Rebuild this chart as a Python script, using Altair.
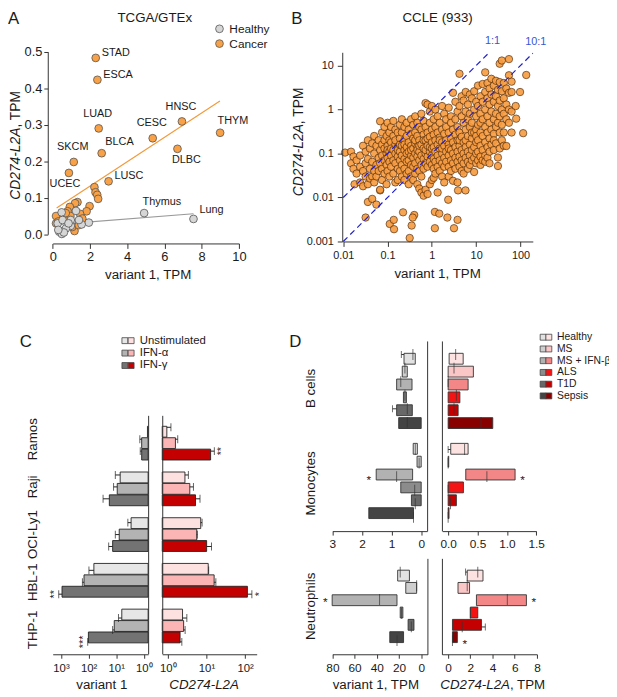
import altair as alt
import pandas as pd

FONT = "Liberation Sans"
MARGIN = 8
W, H = 617 - MARGIN, 697 - MARGIN
INK = "#1a1a1a"
LINE = "#333333"


def v(p):
    """page pixel -> chart pixel"""
    return p - MARGIN


# ---------------- data: A (TCGA/GTEx) ----------------
a_cancer_labels = ["STAD", "ESCA", "LUAD", "HNSC", "THYM", "CESC", "DLBC", "BLCA", "SKCM", "UCEC", "LUSC"]
a_cancer_lab_v1 = [2.31, 2.40, 2.47, 6.94, 8.99, 5.37, 6.70, 2.63, 1.13, 0.87, 3.00]
a_cancer_lab_l2a = [0.483, 0.423, 0.290, 0.309, 0.278, 0.263, 0.234, 0.222, 0.198, 0.168, 0.145]
a_cancer_other_v1 = [2.24, 2.30, 2.39, 2.44, 1.33, 1.20, 1.98, 0.92, 1.82, 1.47, 0.41, 0.18,
                     0.80, 0.18, 1.17, 0.53, 1.59, 0.62, 1.05, 1.40, 0.30, 0.95, 0.70]
a_cancer_other_l2a = [0.129, 0.115, 0.108, 0.097, 0.088, 0.085, 0.077, 0.075, 0.063, 0.056, 0.052, 0.050,
                      0.063, 0.030, 0.009, 0.007, 0.043, 0.045, 0.020, 0.025, 0.035, 0.050, 0.058]
a_healthy_labels = ["Thymus", "Lung"]
a_healthy_lab_v1 = [4.91, 7.56]
a_healthy_lab_l2a = [0.058, 0.042]
a_healthy_other_v1 = [1.94, 1.55, 1.25, 0.48, 0.97, 0.97, 0.35, 0.27, 0.49, 0.53, 0.71, 1.41, 0.60, 0.30, 0.85]
a_healthy_other_l2a = [0.032, 0.027, 0.064, 0.060, 0.023, 0.039, 0.007, 0.030, 0.001, 0.039, 0.016, 0.039,
                       0.005, 0.012, 0.030]
a_fit_group = ["Cancer", "Cancer", "Healthy", "Healthy"]
a_fit_v1 = [0.21, 8.98, 0.30, 7.56]
a_fit_l2a = [0.072, 0.365, 0.027, 0.056]

# ---------------- data: B (CCLE, 933 cell lines; visible cloud) ----------------
ccle_far_left = [
    (0.011, 0.105), (0.015, 0.11), (0.015, 0.06), (0.017, 0.085), (0.017, 0.045), (0.018, 0.02),
    (0.02, 0.07), (0.02, 0.035), (0.024, 0.05), (0.024, 0.022), (0.024, 0.09), (0.028, 0.018),
    (0.028, 0.04), (0.028, 0.15), (0.032, 0.06), (0.032, 0.11), (0.032, 0.03), (0.032, 0.0035),
    (0.036, 0.02), (0.036, 0.075), (0.036, 0.2), (0.036, 0.0079), (0.04, 0.045), (0.04, 0.13),
    (0.04, 0.027), (0.045, 0.0093), (0.045, 0.065), (0.045, 0.17), (0.045, 0.03), (0.05, 0.1),
    (0.05, 0.04), (0.05, 0.022), (0.05, 0.25), (0.056, 0.0069), (0.056, 0.055), (0.056, 0.15),
    (0.056, 0.03), (0.063, 0.08), (0.063, 0.2), (0.063, 0.04), (0.068, 0.0145), (0.068, 0.54),
    (0.068, 0.12), (0.068, 0.06), (0.068, 0.015), (0.075, 0.3), (0.075, 0.09), (0.075, 0.045),
    (0.075, 0.025), (0.075, 0.16), (0.085, 0.4), (0.085, 0.07), (0.085, 0.13), (0.085, 0.035),
    (0.085, 0.2), (0.095, 0.25), (0.095, 0.1), (0.095, 0.055), (0.095, 0.02),
]
ccle_mid = [
    (0.1, 0.5), (0.1, 0.15), (0.1, 0.08), (0.1, 0.04), (0.1, 0.12),
    (0.11, 0.3), (0.11, 0.11), (0.11, 0.065), (0.11, 0.03), (0.11, 0.2), (0.112, 0.0025),
    (0.12, 0.4), (0.12, 0.18), (0.12, 0.09), (0.12, 0.05), (0.12, 0.13),
    (0.135, 0.55), (0.135, 0.25), (0.135, 0.12), (0.135, 0.07), (0.135, 0.035), (0.138, 0.0031), (0.14, 0.0019),
    (0.15, 0.35), (0.15, 0.16), (0.15, 0.1), (0.15, 0.06), (0.15, 0.2), (0.15, 0.022),
    (0.17, 0.3), (0.17, 0.14), (0.17, 0.085), (0.17, 0.045), (0.17, 0.025), (0.17, 0.12),
    (0.19, 0.45), (0.19, 0.22), (0.19, 0.11), (0.19, 0.07), (0.19, 0.04), (0.19, 0.16),
    (0.21, 0.6), (0.21, 0.3), (0.21, 0.15), (0.21, 0.09), (0.21, 0.055), (0.21, 0.03), (0.224, 0.0046),
    (0.24, 0.4), (0.24, 0.2), (0.24, 0.12), (0.24, 0.075), (0.24, 0.045), (0.24, 0.025), (0.24, 0.16),
    (0.27, 0.5), (0.27, 0.25), (0.27, 0.1), (0.27, 0.065), (0.27, 0.035), (0.27, 0.14),
    (0.3, 0.35), (0.3, 0.18), (0.3, 0.11), (0.3, 0.07), (0.3, 0.04), (0.3, 0.02), (0.316, 0.0012), (0.35, 0.0023),
    (0.34, 0.6), (0.34, 0.28), (0.34, 0.15), (0.34, 0.09), (0.34, 0.055), (0.34, 0.03), (0.34, 0.12),
    (0.38, 0.45), (0.38, 0.22), (0.38, 0.13), (0.38, 0.08), (0.38, 0.05), (0.38, 0.025), (0.4, 0.004), (0.37, 0.0035),
    (0.42, 0.7), (0.42, 0.3), (0.42, 0.17), (0.42, 0.1), (0.42, 0.06), (0.42, 0.035), (0.42, 0.2),
    (0.47, 0.5), (0.47, 0.25), (0.47, 0.14), (0.47, 0.085), (0.47, 0.045), (0.47, 0.02), (0.47, 0.12),
    (0.52, 0.4), (0.52, 0.2), (0.52, 0.11), (0.52, 0.07), (0.52, 0.04), (0.52, 0.016), (0.52, 0.15),
    (0.58, 0.8), (0.58, 0.35), (0.58, 0.16), (0.58, 0.09), (0.58, 0.055), (0.58, 0.03), (0.58, 0.013),
    (0.65, 0.55), (0.65, 0.27), (0.65, 0.13), (0.65, 0.075), (0.65, 0.045), (0.65, 0.011), (0.65, 0.2),
    (0.72, 1.4), (0.72, 0.4), (0.72, 0.2), (0.72, 0.1), (0.72, 0.06), (0.72, 0.015), (0.72, 0.12),
    (0.8, 1.3), (0.8, 0.3), (0.8, 0.15), (0.8, 0.085), (0.8, 0.05), (0.8, 0.012), (0.8, 0.22),
    (0.9, 0.9), (0.9, 0.5), (0.9, 0.24), (0.9, 0.11), (0.9, 0.065), (0.9, 0.02), (0.9, 0.14),
]
ccle_high = [
    (1.0, 1.2), (1.0, 0.35), (1.0, 0.18), (1.0, 0.09), (1.0, 0.055), (1.0, 0.025), (1.0, 0.13),
    (1.1, 0.6), (1.1, 0.27), (1.1, 0.14), (1.1, 0.075), (1.1, 0.045), (1.1, 0.028), (1.17, 0.002),
    (1.2, 1.0), (1.2, 0.4), (1.2, 0.2), (1.2, 0.11), (1.2, 0.065), (1.2, 0.035), (1.17, 0.0047),
    (1.35, 0.7), (1.35, 0.3), (1.35, 0.16), (1.35, 0.09), (1.35, 0.05), (1.35, 0.013), (1.47, 0.0043),
    (1.5, 0.5), (1.5, 0.23), (1.5, 0.13), (1.5, 0.07), (1.5, 0.04), (1.5, 0.2),
    (1.7, 1.2), (1.7, 0.35), (1.7, 0.18), (1.7, 0.1), (1.7, 0.06), (1.7, 0.03), (1.7, 0.13),
    (1.9, 0.8), (1.9, 0.28), (1.9, 0.15), (1.9, 0.08), (1.9, 0.05), (1.9, 0.022),
    (2.1, 0.6), (2.1, 0.4), (2.1, 0.2), (2.1, 0.11), (2.1, 0.065), (2.34, 0.0089), (2.24, 0.0035),
    (2.4, 1.1), (2.4, 0.3), (2.4, 0.16), (2.4, 0.09), (2.4, 0.05), (2.4, 0.03), (2.4, 0.13),
    (2.7, 0.7), (2.7, 0.5), (2.7, 0.22), (2.7, 0.12), (2.7, 0.07), (2.7, 0.04),
    (3.0, 2.4), (3.0, 0.35), (3.0, 0.18), (3.0, 0.1), (3.0, 0.06), (3.0, 0.024), (3.16, 0.002),
    (3.4, 1.5), (3.4, 0.6), (3.4, 0.27), (3.4, 0.14), (3.4, 0.08), (3.4, 0.045),
    (3.8, 0.9), (3.8, 0.4), (3.8, 0.2), (3.8, 0.11), (3.8, 0.065), (3.8, 0.022), (3.8, 0.0031),
    (4.2, 6.5), (4.2, 1.2), (4.2, 0.3), (4.2, 0.15), (4.2, 0.085), (4.2, 0.05), (4.2, 0.2),
    (4.7, 2.0), (4.7, 0.7), (4.7, 0.24), (4.7, 0.12), (4.7, 0.07), (4.7, 0.04), (3.9, 0.0145),
    (5.2, 1.6), (5.2, 0.5), (5.2, 0.18), (5.2, 0.1), (5.2, 0.06), (5.2, 0.035),
    (5.8, 2.5), (5.8, 0.9), (5.8, 0.35), (5.8, 0.14), (5.8, 0.08), (5.75, 0.0145), (5.8, 0.2),
    (6.5, 1.3), (6.5, 0.6), (6.5, 0.25), (6.5, 0.11), (6.5, 0.065), (6.5, 0.045),
    (7.2, 2.2), (7.2, 0.8), (7.2, 0.4), (7.2, 0.16), (7.2, 0.09), (7.2, 0.055),
    (8.0, 1.8), (8.0, 0.5), (8.0, 0.22), (8.0, 0.12), (8.0, 0.07), (8.0, 0.3),
    (9.0, 2.6), (9.0, 1.0), (9.0, 0.3), (9.0, 0.14), (9.0, 0.08), (9.0, 0.038),
]
ccle_top = [
    (10, 1.5), (10, 0.7), (10, 0.35), (10, 0.18), (10, 0.1), (10, 0.06), (10, 0.25),
    (11, 3.5), (11, 1.2), (11, 0.45), (11, 0.2), (11, 0.11), (11, 0.07),
    (12.5, 2.0), (12.5, 0.8), (12.5, 0.3), (12.5, 0.15), (12.5, 0.085), (12.5, 0.055), (12.5, 0.5),
    (14, 3.8), (14, 1.5), (14, 0.6), (14, 0.25), (14, 0.12), (14, 0.07),
    (16, 7.0), (16, 2.5), (16, 1.0), (16, 0.4), (16, 0.18), (16, 0.09), (16, 0.065),
    (18, 4.0), (18, 1.8), (18, 0.7), (18, 0.3), (18, 0.14), (18, 0.08),
    (20, 3.0), (20, 1.3), (20, 0.5), (20, 0.22), (20, 0.11), (20, 0.06),
    (22, 5.0), (22, 2.2), (22, 0.9), (22, 0.35), (22, 0.16),
    (25, 3.5), (25, 1.5), (25, 0.6), (25, 0.28), (25, 0.12), (25, 0.2),
    (28, 4.5), (28, 2.0), (28, 0.8), (28, 0.4), (28, 0.17),
    (31, 2.8), (31, 1.2), (31, 0.5), (31, 0.081), (31, 0.052),
    (34, 11.0), (34, 4.2), (34, 1.6), (34, 0.7), (34, 0.3), (34, 0.13),
    (38, 13.0), (38, 2.6), (38, 1.0), (38, 0.45), (38, 0.2),
    (42, 4.0), (42, 1.8), (42, 0.8), (42, 0.3), (42, 0.15),
    (48, 3.0), (48, 1.3), (48, 0.6), (48, 0.148),
    (55, 14.0), (55, 6.0), (55, 2.4), (55, 1.0), (55, 0.5),
    (63, 4.3), (63, 2.5), (63, 0.9), (63, 0.3),
    (78, 1.2), (80, 0.62), (98, 2.5), (115, 0.29), (135, 6.1),
]
b_ratio_labels = ["1:1", "1:1", "10:1", "10:1"]
b_ratio_v1 = [0.01, 20, 0.01, 190]
b_ratio_l2a = [0.01, 20, 0.001, 19]

# ---------------- data: C (cell lines, IFN stimulation) ----------------
c_lines = ["Ramos", "Raji", "OCI-Ly1", "HBL-1", "THP-1"]
c_stims = ["Unstimulated", "IFN-α", "IFN-γ"]
c_v1_mean = [0.74, 1.2, 1.2, 7.2, 9.2, 17.8, 2.9, 7.8, 13.5, 64.5, 147, 920, 6.3, 11.8, 102]
c_v1_err = [0.74, 1.4, 1.35, 10.8, 12.5, 30, 3.8, 10.8, 18.8, 97.5, 168, 1210, 8.3, 13.5, 108]
c_l2a_mean = [0.94, 1.57, 12.8, 2.77, 3.7, 5.2, 7.1, 5.6, 10.1, 11.1, 15.8, 115, 2.4, 2.56, 2.07]
c_l2a_err = [1.2, 1.8, 16, 3.4, 4.6, 6.8, 7.7, 5.8, 13.5, 11.4, 17.5, 150, 3.1, 2.8, 2.3]
c_v1_stars = ["", "", "", "", "", "", "", "", "", "", "", "**", "", "", "***"]
c_l2a_stars = ["", "", "**", "", "", "", "", "", "", "", "", "*", "", "", ""]
c_gray = ["#e6e6e6", "#b3b3b3", "#737373"]
c_red = ["#fde1e1", "#fbb5b5", "#c40000"]

# ---------------- data: D (primary cells, disease) ----------------
d_conditions = ["Healthy", "MS", "MS + IFN-β", "ALS", "T1D", "Sepsis"]
d_top_groups = ["B cells", "Monocytes"]
d_bot_groups = ["Neutrophils"]
d_top_v1_lo = [0.20, 0.47, 0.31, 0.50, 0.30, 0.00, 0.13, 0.00, 0.29, 0.00, 0.00, 0.26]
d_top_v1_med = [0.28, 0.55, 0.69, 0.55, 0.47, 0.47, 0.20, 0.07, 0.83, 0.22, 0.20, 0.26]
d_top_v1_hi = [0.58, 0.64, 0.83, 0.60, 0.83, 0.76, 0.27, 0.14, 1.52, 0.69, 0.33, 1.77]
d_top_v1_whisk = [0.67, None, None, None, 0.97, None, None, None, None, None, None, None]
d_top_l2a_lo = [0.017, 0.0, 0.0, 0.0, 0.0, 0.0, 0.044, 0.0, 0.30, 0.0, 0.0, 0.0]
d_top_l2a_med = [0.128, 0.10, 0.0, 0.14, 0.10, 0.56, 0.28, 0.0, 0.66, 0.0, 0.04, 0.0]
d_top_l2a_hi = [0.256, 0.43, 0.34, 0.20, 0.17, 0.76, 0.34, 0.01, 1.14, 0.26, 0.14, 0.015]
d_top_l2a_whisk = [None, None, None, None, None, None, 0.0, None, None, None, None, None]
d_top_stars = ["", "", "", "", "", "", "", "", "*", "", "", ""]
d_bot_v1_lo = [10.6, 4.1, 21.8, 16.5, 6.5, 15.9]
d_bot_v1_med = [18.9, 4.1, 37.5, 17.7, 8.9, 21.8]
d_bot_v1_hi = [21.2, 13.9, 80.2, 18.9, 11.8, 28.3]
d_bot_v1_whisk = [None, None, None, None, None, None]
d_bot_l2a_lo = [1.72, 0.89, 2.55, 2.00, 0.39, 0.39]
d_bot_l2a_med = [2.67, 1.72, 5.33, 2.00, 1.27, 0.39]
d_bot_l2a_hi = [3.14, 1.93, 7.05, 2.67, 3.00, 0.83]
d_bot_l2a_whisk = [1.57, None, None, None, 3.35, None]
d_bot_v1_stars = ["", "", "*", "", "", ""]
d_bot_l2a_stars = ["", "", "*", "", "", "*"]
d_gray = ["#e2e2e2", "#cfcfcf", "#b2b2b2", "#8c8c8c", "#686868", "#444444"]
d_red = ["#fde2e2", "#fbc6c6", "#f38787", "#f51414", "#c40000", "#880000"]


# ---------------- helpers ----------------
def axis(orient, offset, **kw):
    opts = dict(orient=orient, offset=offset, grid=False, title=None, zindex=1,
                domainColor=LINE, tickColor=LINE, labelColor=INK, labelFont=FONT,
                labelFlush=False, labelOverlap=False, domainWidth=1, tickWidth=1)
    opts.update(kw)
    return alt.Axis(**opts)


def bottom(page_y, **kw):
    return axis("bottom", v(page_y) - H, **kw)


def left(page_x, **kw):
    return axis("left", -v(page_x), **kw)


def right(page_x, **kw):
    return axis("right", v(page_x) - W, **kw)


def note(text, x, y, size=13.5, angle=0, align="center", baseline="middle", style="normal", color=INK):
    return alt.Chart(alt.Data(values=[{}])).mark_text(
        text=text, fontSize=size, angle=angle, align=align, baseline=baseline,
        fontStyle=style, color=color, font=FONT).encode(x=alt.value(x), y=alt.value(y))


def square_legend(x, y, show_labels, size=11.5, row_pad=0.8):
    opts = dict(orient="none", legendX=x, legendY=y, title=None, direction="vertical",
                symbolType="square", symbolSize=36, symbolStrokeColor="#444",
                symbolStrokeWidth=0.8, labelFontSize=size, labelFont=FONT, labelColor=INK,
                rowPadding=row_pad, labelOffset=3, padding=0)
    if not show_labels:
        opts["labelExpr"] = "' '"
    return alt.Legend(**opts)


# ---------------- panel A ----------------
a_points = pd.DataFrame({
    "tissue": a_cancer_labels + [""] * len(a_cancer_other_v1) + a_healthy_labels + [""] * len(a_healthy_other_v1),
    "group": ["Cancer"] * (len(a_cancer_labels) + len(a_cancer_other_v1))
             + ["Healthy"] * (len(a_healthy_labels) + len(a_healthy_other_v1)),
    "v1": a_cancer_lab_v1 + a_cancer_other_v1 + a_healthy_lab_v1 + a_healthy_other_v1,
    "l2a": a_cancer_lab_l2a + a_cancer_other_l2a + a_healthy_lab_l2a + a_healthy_other_l2a,
})
a_fit = pd.DataFrame({"group": a_fit_group, "v1": a_fit_v1, "l2a": a_fit_l2a})

a_xs = alt.Scale(domain=[0, 10], range=[v(53.3), v(242)], nice=False, zero=False)
a_ys = alt.Scale(domain=[0, 0.5], range=[v(232.7), v(47.7)], nice=False, zero=False)
a_xax = bottom(242, values=[0, 2, 4, 6, 8, 10], format="d", tickSize=5, labelPadding=2, labelFontSize=13)
a_yax = left(48.3, values=[0.0, 0.1, 0.2, 0.3, 0.4, 0.5], format=".1f", tickSize=4, labelPadding=2,
             labelFontSize=13)


def a_xy(with_axes=False):
    return dict(x=alt.X("v1:Q", scale=a_xs, axis=a_xax if with_axes else None),
                y=alt.Y("l2a:Q", scale=a_ys, axis=a_yax if with_axes else None))


units = [
    alt.Chart(a_fit[a_fit.group == "Healthy"]).mark_line(color="#999999", strokeWidth=1.1).encode(**a_xy()),
    alt.Chart(a_fit[a_fit.group == "Cancer"]).mark_line(color="#f39a3a", strokeWidth=1.2).encode(**a_xy()),
    alt.Chart(a_points).mark_circle(size=62, stroke="#555555", strokeWidth=0.8, opacity=1).encode(
        **a_xy(True),
        color=alt.Color("group:N", scale=alt.Scale(domain=["Healthy", "Cancer"], range=["#d6d6d6", "#f8a146"]),
                        legend=alt.Legend(orient="none", legendX=v(216.3), legendY=v(18.5), title=None,
                                          direction="vertical", symbolType="circle", symbolSize=62,
                                          symbolStrokeColor="#555", symbolStrokeWidth=0.8, labelFontSize=12,
                                          labelFont=FONT, labelColor=INK, rowPadding=3, labelOffset=4,
                                          padding=0)),
    ),
]
a_label_layout = [
    (["STAD", "ESCA", "LUSC"], 6, -5, "left"),
    (["Lung"], 6, -9, "left"),
    (["LUAD", "HNSC", "CESC", "SKCM"], -1, -15, "center"),
    (["THYM"], 13, -12, "center"),
    (["BLCA", "Thymus"], 18, -11, "center"),
    (["DLBC"], 9, 11, "center"),
    (["UCEC"], -4, 11, "center"),
]
for names, dx, dy, align in a_label_layout:
    units.append(
        alt.Chart(a_points[a_points.tissue.isin(names)]).mark_text(
            dx=dx, dy=dy, align=align, baseline="middle", fontSize=11, font=FONT, color=INK
        ).encode(**a_xy(), text="tissue:N"))

# ---------------- panel B ----------------
ccle = pd.DataFrame(ccle_far_left + ccle_mid + ccle_high + ccle_top, columns=["v1", "l2a"])
ratios = pd.DataFrame({"ratio": b_ratio_labels, "v1": b_ratio_v1, "l2a": b_ratio_l2a})
ratio_ends = ratios.loc[ratios.groupby("ratio")["v1"].idxmax()]

b_xs = alt.Scale(type="log", domain=[0.01, 190], range=[v(347.7), v(539.8)], nice=False)
b_ys = alt.Scale(type="log", domain=[0.001, 20], range=[v(240), v(48.3)], nice=False)
b_xax = bottom(240, values=[0.01, 0.1, 1, 10, 100], format="~g", tickSize=5, labelPadding=3, labelFontSize=11)
b_yax = left(346.7, values=[0.001, 0.01, 0.1, 1, 10], format="~g", tickSize=5, labelPadding=4, labelFontSize=11)


def b_xy(with_axes=False):
    return dict(x=alt.X("v1:Q", scale=b_xs, axis=b_xax if with_axes else None),
                y=alt.Y("l2a:Q", scale=b_ys, axis=b_yax if with_axes else None))


units += [
    alt.Chart(ccle).mark_circle(size=56, color="#f89c40", stroke="#5a300c", strokeWidth=0.8,
                                opacity=0.9).encode(**b_xy(True)),
    alt.Chart(ratios).mark_line(strokeDash=[6, 4], color="#1f1fc8", strokeWidth=1.2).encode(
        **b_xy(), detail="ratio:N"),
    alt.Chart(ratio_ends).mark_text(dx=3, dy=-11, fontSize=11, font=FONT, color="#3556d8").encode(
        **b_xy(), text="ratio:N"),
]

# ---------------- panel C ----------------
c_rows = []
for g, line in enumerate(c_lines):
    for s, stim in enumerate(c_stims):
        i = g * len(c_stims) + s
        c_rows.append(dict(slot=g * (len(c_stims) + 1) + s, line=line, stim=stim,
                           v1=c_v1_mean[i], v1_err=c_v1_err[i], v1_star=c_v1_stars[i],
                           l2a=c_l2a_mean[i], l2a_err=c_l2a_err[i], l2a_star=c_l2a_stars[i]))
c_df = pd.DataFrame(c_rows)
c_groups = pd.DataFrame({"line": c_lines,
                         "center": [g * (len(c_stims) + 1) + 1 for g in range(len(c_lines))]})

c_ys = alt.Scale(domain=[-1, 19], range=[v(416.2), v(657.8)], nice=False, zero=False)
sup_expr = ("datum.value >= 999 ? '10³' : datum.value >= 99 ? '10²' : "
            "datum.value >= 9 ? '10¹' : '10⁰'")


def bar_panel(val, err, star, base, xs, xax, yax, colors, legend, star_dy, group_labels=False):
    cs = alt.Scale(domain=c_stims, range=colors)
    y_plain = alt.Y("slot:Q", scale=c_ys, axis=None)
    layers = [
        alt.Chart(c_df).mark_bar(orient="horizontal", size=11, stroke="#222", strokeWidth=0.9).encode(
            x=alt.X(f"{val}:Q", scale=xs, axis=xax), x2=alt.datum(base),
            y=alt.Y("slot:Q", scale=c_ys, axis=yax),
            color=alt.Color("stim:N", scale=cs, legend=legend)),
    ]
    ed = c_df[c_df[err] > c_df[val]]
    layers.append(alt.Chart(ed).mark_rule(color="#222", strokeWidth=1).encode(
        x=alt.X(f"{val}:Q", scale=xs, axis=None), x2=f"{err}:Q", y=y_plain))
    layers.append(alt.Chart(ed).mark_tick(orient="vertical", size=8, thickness=1, color="#222").encode(
        x=alt.X(f"{err}:Q", scale=xs, axis=None), y=y_plain))
    sd = c_df[c_df[star] != ""]
    layers.append(alt.Chart(sd).mark_text(angle=270, dy=star_dy, fontSize=11, font=FONT, color=INK,
                                          align="center", baseline="middle").encode(
        x=alt.X(f"{err}:Q", scale=xs, axis=None), y=y_plain, text=f"{star}:N"))
    if group_labels:
        layers.append(alt.Chart(c_groups).mark_text(angle=270, fontSize=13.5, font=FONT, color=INK,
                                                    align="center", baseline="middle").encode(
            x=alt.value(v(33)), y=alt.Y("center:Q", scale=c_ys, axis=None), text="line:N"))
    return layers


c_lxs = alt.Scale(type="log", domain=[0.7, 2000], range=[v(150), v(53.3)], nice=False)
c_rxs = alt.Scale(type="log", domain=[0.715, 200], range=[v(164.3), v(260)], nice=False)
units += bar_panel("v1", "v1_err", "v1_star", 0.7, c_lxs,
                   bottom(658.3, values=[1, 10, 100, 1000], labelExpr=sup_expr, tickSize=4, labelPadding=4,
                          labelFontSize=11.5),
                   right(150, labels=False, ticks=False),
                   c_gray, square_legend(v(120.7), v(340.5) - 5.75, False, row_pad=-0.4), -4, True)
units += bar_panel("l2a", "l2a_err", "l2a_star", 0.715, c_rxs,
                   bottom(658.3, values=[1, 10, 100], labelExpr=sup_expr, tickSize=4, labelPadding=4,
                          labelFontSize=11.5),
                   left(164.3, labels=False, ticks=False),
                   c_red, square_legend(v(127), v(340.5) - 5.75, True, row_pad=-0.4), 8)


# ---------------- panel D ----------------
def d_frame(groups, lo, med, hi, whisk, stars):
    n = len(d_conditions)
    rows = []
    for i in range(len(lo)):
        g, c = divmod(i, n)
        w = whisk[i]
        rows.append(dict(slot=g * (n + 1) + c, group=groups[g], cond=d_conditions[c], lo=lo[i], med=med[i],
                         hi=hi[i], whisk=w, edge=(hi[i] if (w is not None and w > hi[i]) else lo[i]),
                         star=stars[i]))
    return pd.DataFrame(rows)


def box_panel(df, xs, ys, xax, yax, colors, legend, star_dx, groups=None):
    cs = alt.Scale(domain=d_conditions, range=colors)
    y_plain = alt.Y("slot:Q", scale=ys, axis=None)
    layers = [
        alt.Chart(df).mark_bar(orient="horizontal", size=11, stroke=LINE, strokeWidth=0.9).encode(
            x=alt.X("lo:Q", scale=xs, axis=xax), x2="hi:Q",
            y=alt.Y("slot:Q", scale=ys, axis=yax),
            color=alt.Color("cond:N", scale=cs, legend=legend)),
        alt.Chart(df).mark_tick(orient="vertical", size=11, thickness=1, color=LINE).encode(
            x=alt.X("med:Q", scale=xs, axis=None), y=y_plain),
    ]
    wd = df.dropna(subset=["whisk"])
    if len(wd):
        layers.append(alt.Chart(wd).mark_rule(color=LINE, strokeWidth=1).encode(
            x=alt.X("edge:Q", scale=xs, axis=None), x2="whisk:Q", y=y_plain))
        layers.append(alt.Chart(wd).mark_tick(orient="vertical", size=7, thickness=1, color=LINE).encode(
            x=alt.X("whisk:Q", scale=xs, axis=None), y=y_plain))
    sd = df[df.star != ""]
    if len(sd):
        layers.append(alt.Chart(sd).mark_text(dx=star_dx, dy=3, fontSize=12, font=FONT, color=INK,
                                              baseline="middle").encode(
            x=alt.X("hi:Q", scale=xs, axis=None), y=y_plain, text="star:N"))
    if groups is not None:
        gdf = pd.DataFrame({"name": groups,
                            "center": [g * (len(d_conditions) + 1) + 2.5 for g in range(len(groups))]})
        layers.append(alt.Chart(gdf).mark_text(angle=270, fontSize=13.5, font=FONT, color=INK,
                                               align="center", baseline="middle").encode(
            x=alt.value(v(315)), y=alt.Y("center:Q", scale=ys, axis=None), text="name:N"))
    return layers


d_top_ys = alt.Scale(domain=[-1, 13], range=[v(340.8), v(533.3)], nice=False, zero=False)
d_bot_ys = alt.Scale(domain=[-1, 6], range=[v(561.1), v(658.4)], nice=False, zero=False)
D_LEG_Y = v(337) - 5.25

units += box_panel(
    d_frame(d_top_groups, d_top_v1_lo, d_top_v1_med, d_top_v1_hi, d_top_v1_whisk, d_top_stars),
    alt.Scale(domain=[-0.2, 3], range=[v(432.7), v(336.7)], nice=False, zero=False), d_top_ys,
    bottom(533.5, values=[0, 1, 2, 3], format="d", tickSize=4, labelPadding=4, labelFontSize=12),
    right(432.7, labels=False, ticks=False),
    d_gray, square_legend(v(545), D_LEG_Y, False, size=10.5, row_pad=0.9), -7.5, d_top_groups)
units += box_panel(
    d_frame(d_top_groups, d_top_l2a_lo, d_top_l2a_med, d_top_l2a_hi, d_top_l2a_whisk, d_top_stars),
    alt.Scale(domain=[-0.1, 1.5], range=[v(448.05), v(543.25)], nice=False, zero=False), d_top_ys,
    bottom(533.5, values=[0, 0.5, 1, 1.5], format=".1f", tickSize=4, labelPadding=4, labelFontSize=12),
    left(447.7, labels=False, ticks=False),
    d_red, square_legend(v(550.8), D_LEG_Y, True, size=10.5, row_pad=0.9), 7.5)
units += box_panel(
    d_frame(d_bot_groups, d_bot_v1_lo, d_bot_v1_med, d_bot_v1_hi, d_bot_v1_whisk, d_bot_v1_stars),
    alt.Scale(domain=[-5.6, 80], range=[v(433), v(336.7)], nice=False, zero=False), d_bot_ys,
    bottom(658.3, values=[0, 20, 40, 60, 80], format="d", tickSize=4, labelPadding=4, labelFontSize=12),
    right(433, labels=False, ticks=False),
    d_gray, None, -7, d_bot_groups)
units += box_panel(
    d_frame(d_bot_groups, d_bot_l2a_lo, d_bot_l2a_med, d_bot_l2a_hi, d_bot_l2a_whisk, d_bot_l2a_stars),
    alt.Scale(domain=[-0.55, 8], range=[v(447.8), v(544)], nice=False, zero=False), d_bot_ys,
    bottom(658.3, values=[0, 2, 4, 6, 8], format="d", tickSize=4, labelPadding=4, labelFontSize=12),
    left(447.7, labels=False, ticks=False),
    d_red, None, 7.5)

# ---------------- titles, letters ----------------
TS = 13.5
units += [
    note("A", 0, 12, size=17, align="left", baseline="alphabetic"),
    note("B", v(295), 12, size=17, align="left", baseline="alphabetic"),
    note("C", v(20), v(347), size=17, align="left", baseline="alphabetic"),
    note("D", v(293), v(347), size=17, align="left", baseline="alphabetic"),
    note("TCGA/GTEx", v(156.7), 6, size=TS),
    note("CCLE (933)", v(443.3), 6, size=TS),
    note("variant 1, TPM", v(150), v(274), size=TS),
    note("variant 1, TPM", v(443.3), v(273), size=TS),
    note("CD274-L2A", 8, v(142.5) - 17.9, size=14, angle=270, align="right", style="italic"),
    note(", TPM", 8, v(142.5) - 17.9, size=14, angle=270, align="left"),
    note("CD274-L2A", v(303.3), v(139) - 17.9, size=14, angle=270, align="right", style="italic"),
    note(", TPM", v(303.3), v(139) - 17.9, size=14, angle=270, align="left"),
    note("variant 1", v(103), v(689.5), size=TS),
    note("CD274-L2A", v(206.7), v(689.5), size=TS, style="italic"),
    note("variant 1, TPM", v(380.7), v(689.5), size=TS),
    note("CD274-L2A", v(499.3) + 17.3, v(689.5), size=TS, align="right", style="italic"),
    note(", TPM", v(499.3) + 17.3, v(689.5), size=TS, align="left"),
]

chart = alt.layer(*units).resolve_scale(
    x="independent", y="independent", color="independent"
).resolve_axis(
    x="independent", y="independent"
).resolve_legend(
    color="independent"
).properties(
    width=W, height=H, autosize=alt.AutoSizeParams(type="none"), padding=0
).configure(
    font=FONT
).configure_view(
    stroke=None
)

chart.save("out.html", embed_options={"renderer": "svg", "actions": False})
